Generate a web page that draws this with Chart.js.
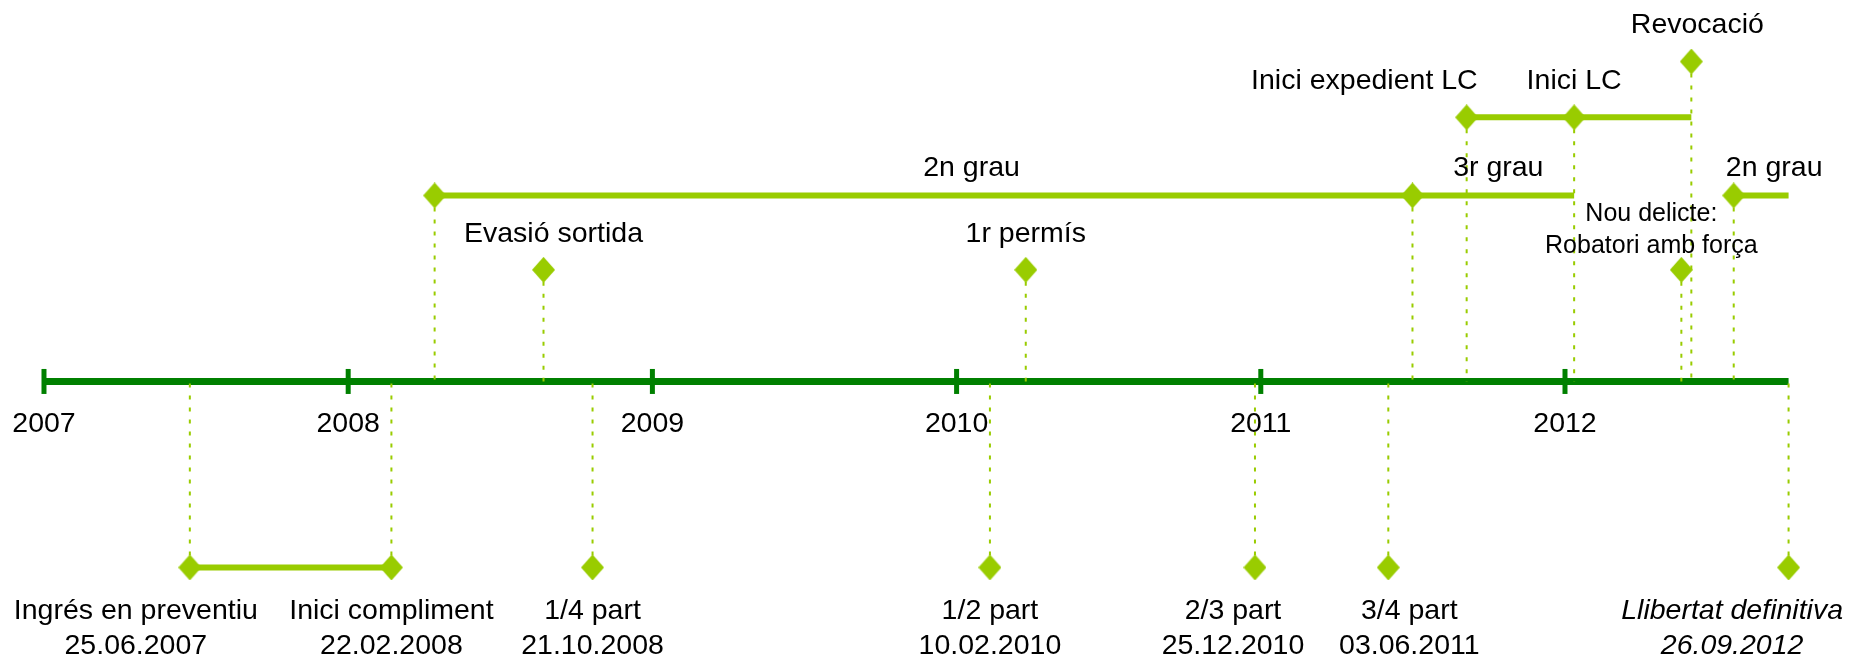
<!DOCTYPE html>
<html>
<head>
<meta charset="utf-8">
<title>Cronologia</title>
<script src="https://cdn.jsdelivr.net/npm/chart.js@4.4.1/dist/chart.umd.min.js"></script>
<style>
    html, body { margin: 0; padding: 0; background: #fff; }
    #wrap { position: relative; width: 1849px; height: 661px; }
</style>
</head>
<body>
<div id="wrap"><canvas id="timeline"></canvas></div>
<script>
// --- data -------------------------------------------------------------
const yearTicks = [2007, 2008, 2009, 2010, 2011, 2012];
const axisStart = '01.01.2007';
const axisEnd = '26.09.2012';

// events marked with a diamond (empty name = start of a period, no own label)
// rows: -1 below the axis, 0.6 / 1 / 1.42 / 1.72 above it
const eventNames = [
    'Ingrés en preventiu', 'Inici compliment', '1/4 part', '1/2 part',
    '2/3 part', '3/4 part', 'Llibertat definitiva',
    '', 'Evasió sortida', '1r permís', '', 'Inici expedient LC',
    'Inici LC', 'Nou delicte:\nRobatori amb força', 'Revocació', ''
];
const eventDates = [
    '25.06.2007', '22.02.2008', '21.10.2008', '10.02.2010',
    '25.12.2010', '03.06.2011', '26.09.2012',
    '14.04.2008', '23.08.2008', '25.03.2010', '02.07.2011', '05.09.2011',
    '12.01.2012', '20.05.2012', '01.06.2012', '22.07.2012'
];
const eventRows = [
    -1, -1, -1, -1, -1, -1, -1,
    1, 0.6, 0.6, 1, 1.42, 1.42, 0.6, 1.72, 1
];
// only the dates below the axis are printed
const eventShowDate = [true, true, true, true, true, true, true,
    false, false, false, false, false, false, false, false, false];

// periods drawn as bars
const periodNames = ['2n grau', '3r grau', '', '2n grau', ''];
const periodStart = ['14.04.2008', '02.07.2011', '05.09.2011', '22.07.2012', '25.06.2007'];
const periodEnd = ['02.07.2011', '12.01.2012', '01.06.2012', '26.09.2012', '22.02.2008'];
const periodRows = [1, 1, 1.42, 1, -1];

// --- look -------------------------------------------------------------
const DARK = '#008000';
const LIGHT = '#99CC00';
const FONT = '"Liberation Sans", Arial, sans-serif';
const FONT_SIZE = 28.5;

// small nudges for labels that are moved off their marks in the picture
const eventLabelTweak = {
    'Ingrés en preventiu': { dx: -54 },
    '2/3 part': { dx: -22 },
    '3/4 part': { dx: 21 },
    'Evasió sortida': { dx: 10 },
    'Inici expedient LC': { align: 'right', dx: 11 },
    'Revocació': { dx: 6 },
    'Nou delicte:\nRobatori amb força': { dx: -30, size: 25, lines: [-56, -24] },
    'Llibertat definitiva': { italic: true }
};
const periodLabelDx = [48, 5, 0, 13, 0];

// --- helpers ----------------------------------------------------------
function toYear(str) {
    const [d, m, y] = str.split('.').map(Number);
    const start = Date.UTC(y, 0, 1);
    const next = Date.UTC(y + 1, 0, 1);
    return y + (Date.UTC(y, m - 1, d) - start) / (next - start);
}

function makeDiamond(w, h, color) {
    const c = document.createElement('canvas');
    c.width = w;
    c.height = h;
    const g = c.getContext('2d');
    g.fillStyle = color;
    g.beginPath();
    g.moveTo(w / 2, 0);
    g.lineTo(w, h / 2);
    g.lineTo(w / 2, h);
    g.lineTo(0, h / 2);
    g.closePath();
    g.fill();
    return c;
}

// --- datasets built from the arrays -----------------------------------
const eventX = eventDates.map(toYear);

const guideData = [];
eventX.forEach((x, i) => {
    guideData.push({ x, y: eventRows[i] }, { x, y: 0 }, { x, y: null });
});

const periodData = [];
periodNames.forEach((_, i) => {
    periodData.push(
        { x: toYear(periodStart[i]), y: periodRows[i] },
        { x: toYear(periodEnd[i]), y: periodRows[i] },
        { x: toYear(periodEnd[i]), y: null }
    );
});

const axisData = [{ x: toYear(axisStart), y: 0 }, { x: toYear(axisEnd), y: 0 }];
const tickData = yearTicks.map(y => ({ x: y, y: 0 }));
const diamondData = eventX.map((x, i) => ({ x, y: eventRows[i] }));

// --- labels plugin ----------------------------------------------------
const labelPlugin = {
    id: 'timelineLabels',
    afterDatasetsDraw(chart) {
        const ctx = chart.ctx;
        const xs = chart.scales.x;
        const ys = chart.scales.y;
        const W = chart.width;

        function fontOf(size, italic) {
            return (italic ? 'italic ' : '') + size + 'px ' + FONT;
        }

        function drawBlock(lines, cx, baseY, offsets, opts) {
            ctx.font = fontOf(opts.size || FONT_SIZE, opts.italic);
            const maxW = Math.max(...lines.map(t => ctx.measureText(t).width));
            let left;
            if (opts.align === 'right') left = cx - maxW;
            else left = cx - maxW / 2;
            left = Math.max(12, Math.min(W - 6 - maxW, left));
            const mid = left + maxW / 2;
            ctx.textAlign = 'center';
            lines.forEach((t, k) => ctx.fillText(t, mid, baseY + offsets[k]));
        }

        ctx.save();
        ctx.fillStyle = '#000';
        ctx.textBaseline = 'middle';

        // year labels
        const axisY = ys.getPixelForValue(0);
        ctx.font = fontOf(FONT_SIZE);
        ctx.textAlign = 'center';
        yearTicks.forEach(y => {
            ctx.fillText(String(y), xs.getPixelForValue(y), axisY + 43);
        });

        // event labels
        eventNames.forEach((name, i) => {
            if (!name) return;
            const tw = eventLabelTweak[name] || {};
            const px = xs.getPixelForValue(eventX[i]) + (tw.dx || 0);
            const py = ys.getPixelForValue(eventRows[i]);
            if (eventShowDate[i]) {
                drawBlock([name, eventDates[i]], px, py, [44, 79], tw);
            } else {
                const lines = name.split('\n');
                drawBlock(lines, px, py, tw.lines || [-36], tw);
            }
        });

        // period labels
        periodNames.forEach((name, i) => {
            if (!name) return;
            const a = xs.getPixelForValue(toYear(periodStart[i]));
            const b = xs.getPixelForValue(toYear(periodEnd[i]));
            const py = ys.getPixelForValue(periodRows[i]);
            drawBlock([name], (a + b) / 2 + periodLabelDx[i], py, [-27], {});
        });

        ctx.restore();
    }
};

// --- chart ------------------------------------------------------------
new Chart(document.getElementById('timeline'), {
    type: 'scatter',
    data: {
        datasets: [
            {
                label: 'events',
                data: diamondData,
                pointStyle: makeDiamond(23, 26, LIGHT),
                pointRadius: 12,
                order: 1,
                clip: false
            },
            {
                label: 'periods',
                data: periodData,
                showLine: true,
                borderColor: LIGHT,
                borderWidth: 6,
                pointRadius: 0,
                spanGaps: false,
                order: 2,
                clip: false
            },
            {
                label: 'guides',
                data: guideData,
                showLine: true,
                borderColor: LIGHT,
                borderWidth: 2,
                borderDash: [4, 8],
                pointRadius: 0,
                spanGaps: false,
                order: 3,
                clip: false
            },
            {
                label: 'ticks',
                data: tickData,
                pointStyle: 'line',
                rotation: 90,
                pointRadius: 12.5,
                borderColor: DARK,
                borderWidth: 5,
                order: 4,
                clip: false
            },
            {
                label: 'axis',
                data: axisData,
                showLine: true,
                borderColor: DARK,
                borderWidth: 7,
                pointRadius: 0,
                order: 5,
                clip: false
            }
        ]
    },
    options: {
        responsive: true,
        maintainAspectRatio: false,
        animation: false,
        devicePixelRatio: 1,
        layout: { padding: 0, autoPadding: false },
        plugins: {
            legend: { display: false },
            tooltip: { enabled: false }
        },
        scales: {
            x: { type: 'linear', min: 2006.8554, max: 2012.9336, display: false },
            y: { type: 'linear', min: -1.503, max: 2.051, display: false }
        },
        events: []
    },
    plugins: [labelPlugin]
});
</script>
</body>
</html>
